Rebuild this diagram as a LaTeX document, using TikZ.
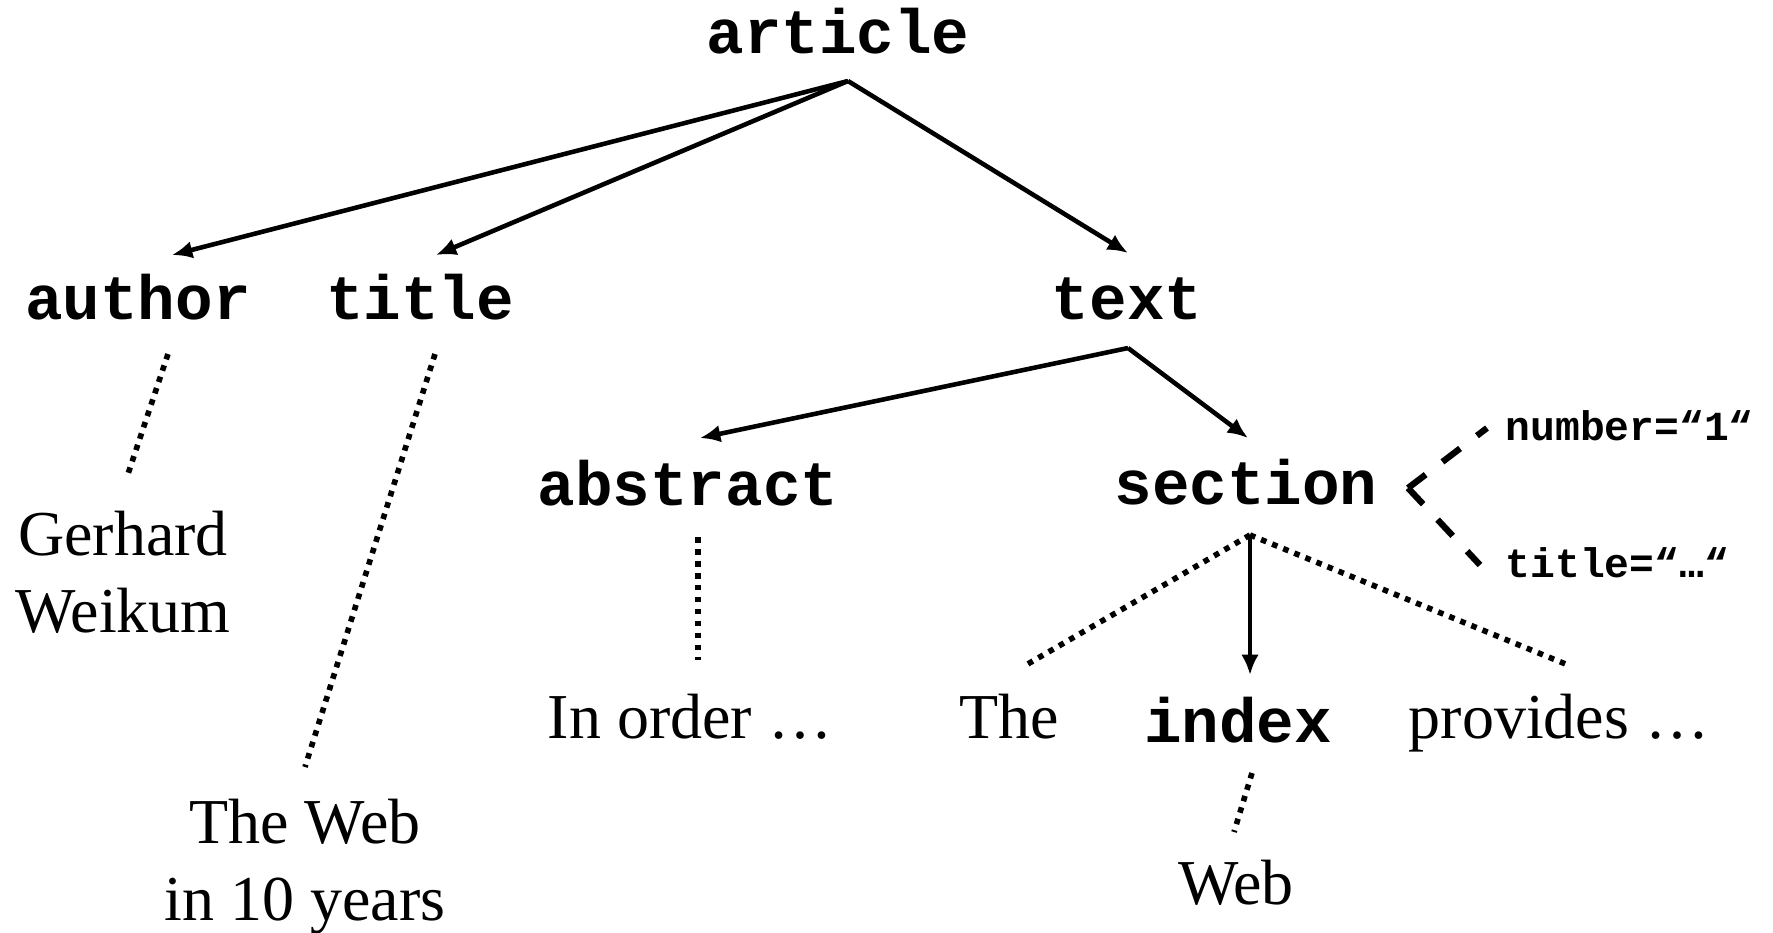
\documentclass[tikz,border=0pt]{standalone}
\usepackage{fontspec}
\setmainfont{Liberation Serif}
\setmonofont{Liberation Mono}
\usetikzlibrary{arrows.meta,calc}

\begin{document}
\begin{tikzpicture}[x=0.01cm, y=-0.01cm, >={Latex[length=5.8pt,width=5pt]}]

%local definitions
\tikzstyle{Tag} = [inner sep=0pt, anchor=base, font=\fontsize{17.8pt}{20pt}\selectfont\ttfamily\bfseries]
\tikzstyle{Words} = [inner sep=0pt, anchor=base, align=center, font=\fontsize{18.2pt}{21.9pt}\selectfont]
\tikzstyle{Attr} = [inner sep=0pt, anchor=base west, font=\fontsize{11.75pt}{14pt}\selectfont\ttfamily\bfseries]
\tikzstyle{ChildArrow} = [->, line width=1.3pt]
\tikzstyle{ContentLine} = [line width=1.6pt, dash pattern=on 1.6pt off 1.8pt]
\tikzstyle{AttrLine} = [line width=1.8pt, dash pattern=on 6.3pt off 6pt]

\useasboundingbox (0,0) rectangle (1773,932);

%element tags
	\node [Tag] (tagArticle) at (838,53) {article};
	\node [Tag] (tagAuthor) at (138,319) {author};
	\node [Tag] (tagTitle) at (420,319) {title};
	\node [Tag] (tagText) at (1127,319) {text};
	\node [Tag] (tagAbstract) at (688,505) {abstract};
	\node [Tag] (tagSection) at (1246,504) {section};
	\node [Tag] (tagIndex) at (1238,742) {index};

%content (base = last line)
	\node [Words] (authorName) at (123,632) {Gerhard\\Weikum};
	\node [Words] (titleText) at (305,920) {The Web\\in 10 years};
	\node [Words] (abstractText) at (690,738) {In order …};
	\node [Words] (sectionStart) at (1009,738) {The};
	\node [Words] (sectionEnd) at (1559,738) {provides …};
	\node [Words] (indexText) at (1236,904) {Web};

%attributes
	\node [Attr] (attrNumber) at (1505,440) {number=“1“};
	\node [Attr] (attrTitle) at (1505,577) {title=“…“};
	\coordinate (attrFork) at ($(tagSection.base)+(162,-16)$);

%connections
	\draw [ChildArrow] ($(tagArticle.base)+(10,28)$) -- ($(tagAuthor.base)+(34,-64)$);
	\draw [ChildArrow] ($(tagArticle.base)+(10,28)$) -- ($(tagTitle.base)+(16,-64)$);
	\draw [ChildArrow] ($(tagArticle.base)+(10,28)$) -- ($(tagText.base)+(1,-66)$);
	\draw [ChildArrow] ($(tagText.base)+(1,29)$) -- ($(tagAbstract.base)+(12,-67)$);
	\draw [ChildArrow] ($(tagText.base)+(1,29)$) -- ($(tagSection.base)+(2,-66)$);
	\draw [ChildArrow] ($(tagSection.base)+(4,31)$) -- ($(tagIndex.base)+(12,-67)$);

	%text content
	\draw [ContentLine] ($(tagAuthor.base)+(30,35)$) -- ($(authorName.base)+(4,-155)$);
	\draw [ContentLine] ($(tagTitle.base)+(15,35)$) -- ($(titleText.base)+(0,-153)$);
	\draw [ContentLine] ($(tagAbstract.base)+(10,32)$) -- ($(abstractText.base)+(8,-78)$);
	\draw [ContentLine] ($(tagSection.base)+(4,31)$) -- ($(sectionStart.base)+(17,-73)$);
	\draw [ContentLine] ($(tagSection.base)+(4,31)$) -- ($(sectionEnd.base)+(9,-73)$);
	\draw [ContentLine] ($(tagIndex.base)+(14,31)$) -- ($(indexText.base)+(-2,-72)$);

	%attribute lines
	\draw [AttrLine] (attrFork) -- ($(attrNumber.base west)+(-18,-12)$);
	\draw [AttrLine] (attrFork) -- ($(attrTitle.base west)+(-25,-12)$);

\end{tikzpicture}
\end{document}
